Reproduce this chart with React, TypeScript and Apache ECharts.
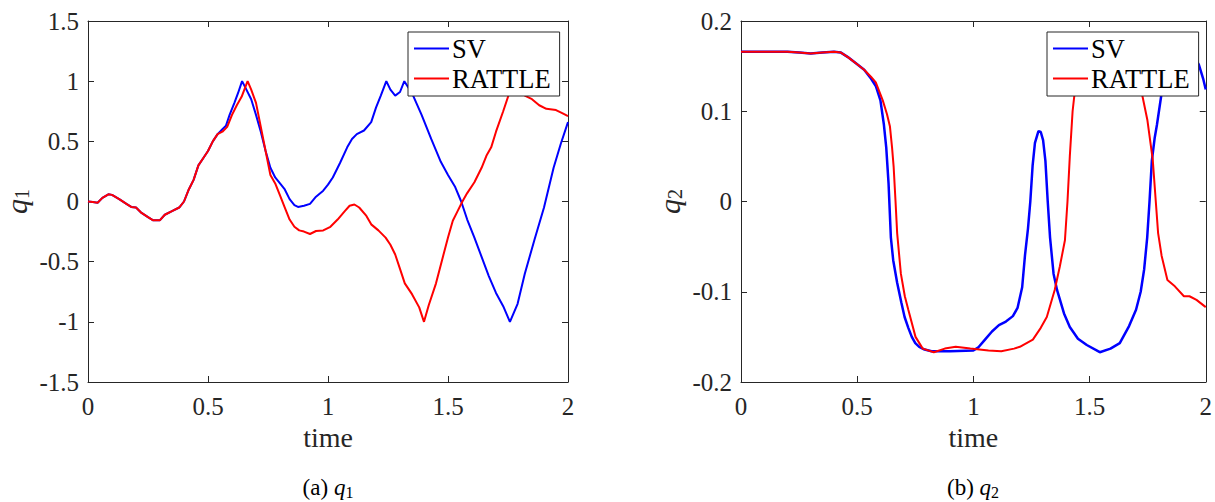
import React, { useEffect, useRef } from "react";
import * as echarts from "echarts";

const xTicks = [0, 0.5, 1, 1.5, 2];
const y1Ticks = [-1.5, -1, -0.5, 0, 0.5, 1, 1.5];
const y2Ticks = [-0.2, -0.1, 0, 0.1, 0.2];
const seriesNames = ["SV", "RATTLE"];

const q1Common: [number, number][] = [
  [0, 0], [0.02, -0.005], [0.04, -0.01], [0.06, 0.03], [0.085, 0.06], [0.1, 0.055],
  [0.13, 0.02], [0.16, -0.02], [0.18, -0.045], [0.2, -0.05], [0.22, -0.09], [0.25, -0.13],
  [0.27, -0.155], [0.3, -0.155], [0.32, -0.11], [0.35, -0.08], [0.38, -0.05], [0.4, 0.0],
  [0.42, 0.1], [0.44, 0.18], [0.46, 0.3], [0.48, 0.36], [0.5, 0.42], [0.52, 0.5], [0.54, 0.56],
];

const q1SV: [number, number][] = [
  ...q1Common,
  [0.56, 0.6], [0.575, 0.63], [0.59, 0.72], [0.61, 0.82], [0.625, 0.9], [0.642, 1.0],
  [0.66, 0.93], [0.68, 0.85], [0.7, 0.72], [0.72, 0.58], [0.74, 0.42], [0.76, 0.28],
  [0.78, 0.2], [0.8, 0.15], [0.82, 0.1], [0.84, 0.02], [0.86, -0.03], [0.875, -0.045],
  [0.9, -0.035], [0.925, -0.02], [0.95, 0.04], [0.98, 0.09], [1.0, 0.14], [1.02, 0.2],
  [1.05, 0.32], [1.08, 0.45], [1.1, 0.52], [1.12, 0.56], [1.15, 0.59], [1.18, 0.66],
  [1.2, 0.78], [1.22, 0.88], [1.243, 1.0], [1.26, 0.93], [1.28, 0.88], [1.3, 0.91],
  [1.318, 1.0], [1.35, 0.9], [1.39, 0.72], [1.43, 0.52], [1.47, 0.33], [1.5, 0.22],
  [1.53, 0.12], [1.555, 0.0], [1.58, -0.15], [1.61, -0.3], [1.64, -0.46], [1.67, -0.62],
  [1.7, -0.76], [1.73, -0.87], [1.758, -1.0], [1.79, -0.85], [1.82, -0.6], [1.86, -0.32],
  [1.9, -0.05], [1.94, 0.28], [1.97, 0.48], [2.0, 0.66],
];

const q1RATTLE: [number, number][] = [
  ...q1Common,
  [0.56, 0.58], [0.58, 0.62], [0.6, 0.72], [0.62, 0.8], [0.64, 0.87], [0.665, 1.0],
  [0.68, 0.93], [0.7, 0.82], [0.72, 0.62], [0.74, 0.42], [0.76, 0.22], [0.78, 0.15],
  [0.8, 0.05], [0.82, -0.05], [0.84, -0.15], [0.86, -0.21], [0.88, -0.24], [0.9, -0.25],
  [0.925, -0.27], [0.95, -0.245], [0.98, -0.24], [1.01, -0.21], [1.04, -0.15], [1.07, -0.08],
  [1.09, -0.035], [1.11, -0.025], [1.13, -0.05], [1.16, -0.12], [1.18, -0.19], [1.21, -0.24],
  [1.24, -0.3], [1.26, -0.36], [1.28, -0.44], [1.3, -0.56], [1.32, -0.68], [1.35, -0.77],
  [1.38, -0.88], [1.4, -1.0], [1.42, -0.86], [1.45, -0.68], [1.48, -0.45], [1.5, -0.3],
  [1.52, -0.16], [1.54, -0.08], [1.56, 0.0], [1.58, 0.07], [1.61, 0.16], [1.64, 0.28],
  [1.66, 0.38], [1.68, 0.45], [1.7, 0.58], [1.73, 0.75], [1.755, 0.9], [1.775, 1.0],
  [1.8, 0.95], [1.82, 0.88], [1.85, 0.85], [1.88, 0.8], [1.91, 0.77], [1.95, 0.76],
  [1.98, 0.73], [2.0, 0.71],
];

const q2Common: [number, number][] = [
  [0, 0.166], [0.1, 0.166], [0.2, 0.166], [0.25, 0.165], [0.3, 0.164], [0.35, 0.165],
  [0.4, 0.166], [0.43, 0.165], [0.46, 0.16], [0.5, 0.152], [0.53, 0.146],
];

const q2SV: [number, number][] = [
  ...q2Common,
  [0.56, 0.136], [0.58, 0.128], [0.6, 0.112], [0.615, 0.085], [0.625, 0.06], [0.635, 0.02],
  [0.645, -0.04], [0.655, -0.065], [0.672, -0.09], [0.69, -0.112], [0.704, -0.128],
  [0.72, -0.14], [0.735, -0.15], [0.75, -0.157], [0.767, -0.161], [0.79, -0.164],
  [0.82, -0.166], [0.9, -0.166], [1.0, -0.165], [1.02, -0.162], [1.05, -0.153],
  [1.08, -0.144], [1.11, -0.137], [1.14, -0.133], [1.17, -0.127], [1.19, -0.118],
  [1.21, -0.095], [1.222, -0.06], [1.235, -0.03], [1.245, 0.0], [1.255, 0.04],
  [1.265, 0.065], [1.28, 0.078], [1.29, 0.077], [1.3, 0.068], [1.31, 0.045], [1.32, 0.0],
  [1.33, -0.04], [1.345, -0.08], [1.36, -0.098], [1.39, -0.124], [1.415, -0.139],
  [1.45, -0.152], [1.488, -0.159], [1.544, -0.167], [1.59, -0.163], [1.63, -0.157],
  [1.67, -0.138], [1.7, -0.12], [1.72, -0.1], [1.735, -0.075], [1.748, -0.04],
  [1.758, 0.0], [1.768, 0.045], [1.78, 0.07], [1.79, 0.085], [1.81, 0.12], [1.84, 0.142],
  [1.88, 0.153], [1.92, 0.159], [1.95, 0.16], [1.97, 0.152], [1.99, 0.135], [2.0, 0.124],
];

const q2RATTLE: [number, number][] = [
  ...q2Common,
  [0.56, 0.138], [0.58, 0.132], [0.61, 0.112], [0.628, 0.097], [0.641, 0.083],
  [0.65, 0.06], [0.657, 0.038], [0.665, 0.0], [0.672, -0.035], [0.688, -0.08],
  [0.705, -0.105], [0.72, -0.12], [0.751, -0.15], [0.782, -0.163], [0.83, -0.167],
  [0.877, -0.163], [0.924, -0.161], [0.987, -0.163], [1.065, -0.165], [1.12, -0.166],
  [1.175, -0.163], [1.2, -0.161], [1.256, -0.153], [1.29, -0.14], [1.316, -0.128],
  [1.35, -0.098], [1.372, -0.072], [1.394, -0.043], [1.405, 0.0], [1.415, 0.05],
  [1.427, 0.1], [1.44, 0.13], [1.46, 0.152], [1.5, 0.163], [1.6, 0.166], [1.68, 0.163],
  [1.71, 0.145], [1.725, 0.12], [1.749, 0.09], [1.772, 0.046], [1.785, 0.0],
  [1.795, -0.035], [1.81, -0.06], [1.835, -0.087], [1.867, -0.094], [1.906, -0.105],
  [1.93, -0.105], [1.96, -0.109], [2.0, -0.117],
];

const FONT = "Liberation Serif";
const AXIS_COLOR = "#262626";

function fmt(v: number) {
  const r = Math.round(v * 1000) / 1000;
  return String(r);
}

export default function App() {
  const ref = useRef<HTMLDivElement>(null);
  useEffect(() => {
    if (!ref.current) return;
    const chart = echarts.init(ref.current, undefined, { renderer: "svg" });

    const grids = [
      { left: 88, top: 21, width: 480, height: 361 },
      { left: 741, top: 21, width: 465, height: 361 },
    ];
    const yTickSets = [y1Ticks, y2Ticks];
    const yNames = ["1", "2"];

    const xAxes: any[] = [];
    const yAxes: any[] = [];
    [0, 1].forEach((g) => {
      const yt = yTickSets[g];
      xAxes.push({
        type: "value",
        gridIndex: g,
        min: xTicks[0],
        max: xTicks[xTicks.length - 1],
        interval: xTicks[1] - xTicks[0],
        position: "bottom",
        name: "time",
        nameLocation: "middle",
        nameGap: 40,
        nameTextStyle: { fontFamily: FONT, fontSize: 28, color: AXIS_COLOR },
        axisLine: { show: true, onZero: false, lineStyle: { color: AXIS_COLOR, width: 1 } },
        axisTick: { show: true, inside: true, length: 6, lineStyle: { color: AXIS_COLOR } },
        axisLabel: {
          fontFamily: FONT, fontSize: 25, color: AXIS_COLOR, margin: 12,
          formatter: (v: number) => fmt(v),
        },
        splitLine: { show: false },
      });
      xAxes.push({
        type: "value",
        gridIndex: g,
        min: xTicks[0],
        max: xTicks[xTicks.length - 1],
        interval: xTicks[1] - xTicks[0],
        position: "top",
        axisLine: { show: true, onZero: false, lineStyle: { color: AXIS_COLOR, width: 1 } },
        axisTick: { show: true, inside: true, length: 6, lineStyle: { color: AXIS_COLOR } },
        axisLabel: { show: false },
        splitLine: { show: false },
      });
      yAxes.push({
        type: "value",
        gridIndex: g,
        min: yt[0],
        max: yt[yt.length - 1],
        interval: Math.round((yt[1] - yt[0]) * 1000) / 1000,
        position: "left",
        name: `{i|q}{s|${yNames[g]}}`,
        nameLocation: "middle",
        nameGap: 56,
        nameRotate: 90,
        nameTextStyle: {
          color: AXIS_COLOR,
          fontFamily: FONT,
          rich: {
            i: { fontFamily: FONT, fontStyle: "italic", fontSize: 30, color: AXIS_COLOR },
            s: { fontFamily: FONT, fontSize: 20, color: AXIS_COLOR, padding: [12, 0, 0, 0] },
          },
        },
        axisLine: { show: true, onZero: false, lineStyle: { color: AXIS_COLOR, width: 1 } },
        axisTick: { show: true, inside: true, length: 6, lineStyle: { color: AXIS_COLOR } },
        axisLabel: {
          fontFamily: FONT, fontSize: 25, color: AXIS_COLOR, margin: 9,
          formatter: (v: number) => fmt(v),
        },
        splitLine: { show: false },
      });
      yAxes.push({
        type: "value",
        gridIndex: g,
        min: yt[0],
        max: yt[yt.length - 1],
        interval: Math.round((yt[1] - yt[0]) * 1000) / 1000,
        position: "right",
        axisLine: { show: true, onZero: false, lineStyle: { color: AXIS_COLOR, width: 1 } },
        axisTick: { show: true, inside: true, length: 6, lineStyle: { color: AXIS_COLOR } },
        axisLabel: { show: false },
        splitLine: { show: false },
      });
    });

    const lineSeries = (name: string, data: [number, number][], g: number, color: string, width: number) => ({
      type: "line",
      name,
      xAxisIndex: g * 2,
      yAxisIndex: g * 2,
      data,
      symbol: "none",
      showSymbol: false,
      smooth: false,
      lineStyle: { color, width },
      itemStyle: { color },
      z: name === "SV" ? 2 : 3,
    });

    const legendBase = {
      orient: "vertical",
      data: seriesNames,
      top: 32,
      icon: "rect",
      itemWidth: 35,
      itemHeight: 2,
      itemGap: 3,
      padding: [3, 9, 4, 6],
      backgroundColor: "#ffffff",
      borderColor: AXIS_COLOR,
      borderWidth: 1,
      borderRadius: 0,
      selectedMode: false,
      textStyle: { fontFamily: FONT, fontSize: 26.5, color: "#000000", padding: [0, 0, 0, -2] },
    };

    const captionRich = {
      i: { fontFamily: FONT, fontStyle: "italic", fontSize: 23, fill: "#000000" },
      s: { fontFamily: FONT, fontSize: 16, fill: "#000000", padding: [10, 0, 0, 0] },
    };

    chart.setOption({
      animation: false,
      backgroundColor: "#ffffff",
      textStyle: { fontFamily: FONT },
      grid: grids,
      xAxis: xAxes,
      yAxis: yAxes,
      legend: [
        { ...legendBase, left: 408 },
        { ...legendBase, left: 1047 },
      ],
      series: [
        lineSeries("SV", q1SV, 0, "#0000ff", 2),
        lineSeries("RATTLE", q1RATTLE, 0, "#ff0000", 2),
        lineSeries("SV", q2SV, 1, "#0000ff", 2.5),
        lineSeries("RATTLE", q2RATTLE, 1, "#ff0000", 2),
      ],
      graphic: [
        {
          type: "text",
          x: 328,
          y: 487,
          style: {
            text: "(a) {i|q}{s|1}",
            fontFamily: FONT,
            fontSize: 23,
            fill: "#000000",
            align: "center",
            verticalAlign: "middle",
            rich: captionRich,
          },
        },
        {
          type: "text",
          x: 973,
          y: 487,
          style: {
            text: "(b) {i|q}{s|2}",
            fontFamily: FONT,
            fontSize: 23,
            fill: "#000000",
            align: "center",
            verticalAlign: "middle",
            rich: captionRich,
          },
        },
      ],
    });
    return () => chart.dispose();
  }, []);
  return <div ref={ref} style={{ width: 1215, height: 502, position: "absolute", left: 0, top: 0 }} />;
}
